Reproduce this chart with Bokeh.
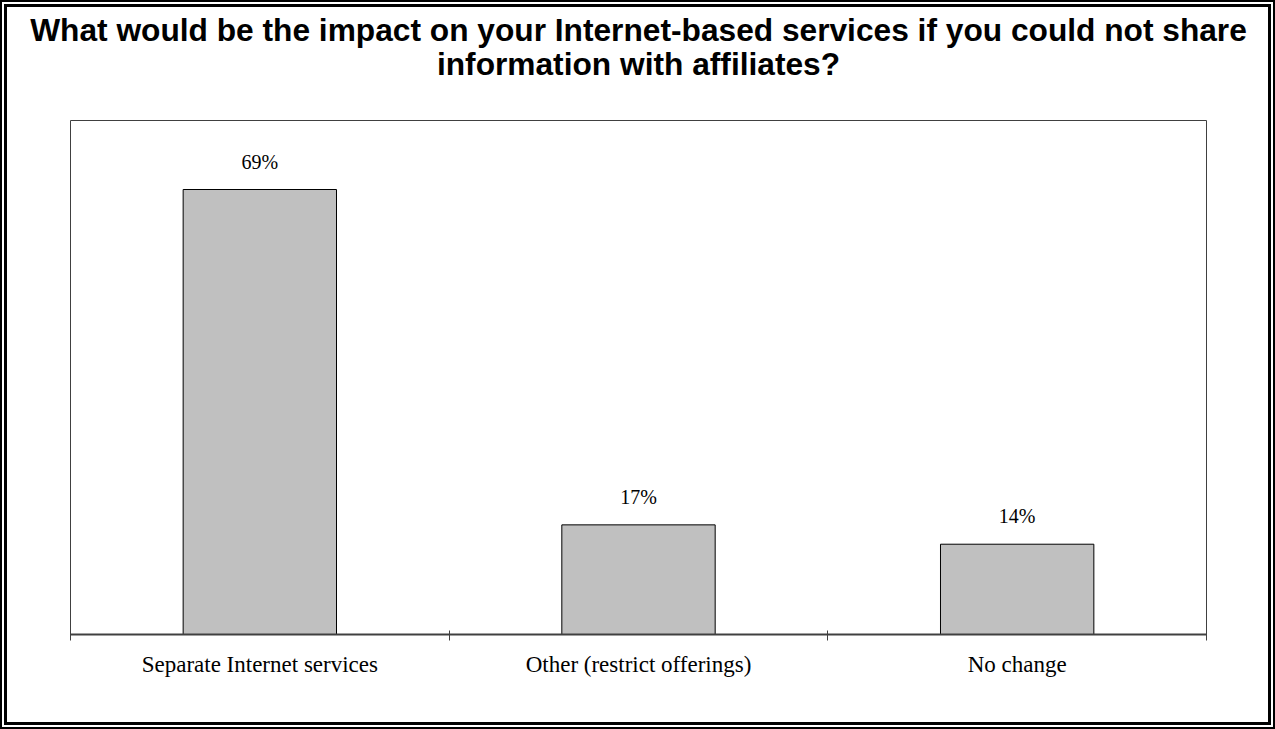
from bokeh.plotting import figure
from bokeh.models import Range1d, FixedTicker, Title, ColumnDataSource, LabelSet
from bokeh.embed import file_html
from bokeh.resources import INLINE

# ---- data ----
categories = ["Separate Internet services", "Other (restrict offerings)", "No change"]
values = [69, 17, 14]
value_labels = ["69%", "17%", "14%"]
title_lines = ["What would be the impact on your Internet-based services if you could not share",
               "information with affiliates?"]

xs = [i + 0.5 for i in range(len(categories))]
src = ColumnDataSource(dict(x=xs, top=values, lab=value_labels))

W, H = 1275, 729
p = figure(width=W, height=H, output_backend="svg", toolbar_location=None,
           x_range=Range1d(0, len(categories)), y_range=Range1d(0, 79.7),
           y_axis_location=None, min_border_left=70, min_border_right=69,
           min_border_top=120, min_border_bottom=95)
p.margin = (0, 0, 0, 0)
p.styles = {"box-shadow": "inset 0 0 0 2px black, inset 0 0 0 4px white, inset 0 0 0 7px black",
            "background-color": "white"}
p.border_fill_color = None
p.background_fill_color = "white"
p.outline_line_color = "#404040"
p.outline_line_width = 1
p.xgrid.visible = False
p.ygrid.visible = False

p.vbar(x="x", top="top", width=0.405, bottom=0, source=src,
       fill_color="#C0C0C0", line_color="black", line_width=1)

labels = LabelSet(x="x", y="top", text="lab", source=src, text_align="center",
                  text_baseline="alphabetic", y_offset=21,
                  text_font="Liberation Serif", text_font_size="20px", text_color="black")
p.add_layout(labels)

ax = p.xaxis[0]
ax.ticker = FixedTicker(ticks=xs, minor_ticks=list(range(len(categories) + 1)))
ax.major_label_overrides = {x: c for x, c in zip(xs, categories)}
ax.major_tick_line_color = None
ax.major_tick_out = 0
ax.major_tick_in = 0
ax.minor_tick_line_color = "#404040"
ax.minor_tick_in = 4
ax.minor_tick_out = 6
ax.axis_line_color = "#404040"
ax.axis_line_width = 2
ax.major_label_text_font = "Liberation Serif"
ax.major_label_text_font_size = "23px"
ax.major_label_text_color = "black"
ax.major_label_standoff = 11

# spacer between the title and the plot frame
p.add_layout(Title(text=" ", text_font_size="1px", standoff=36), "above")
for line, so in zip(reversed(title_lines), [0, -8]):
    p.add_layout(Title(text=line, align="center", text_font="Liberation Sans",
                       text_font_size="31.7px", text_font_style="bold", text_color="black",
                       standoff=so), "above")

open("out.html", "w").write(file_html(p, INLINE))
